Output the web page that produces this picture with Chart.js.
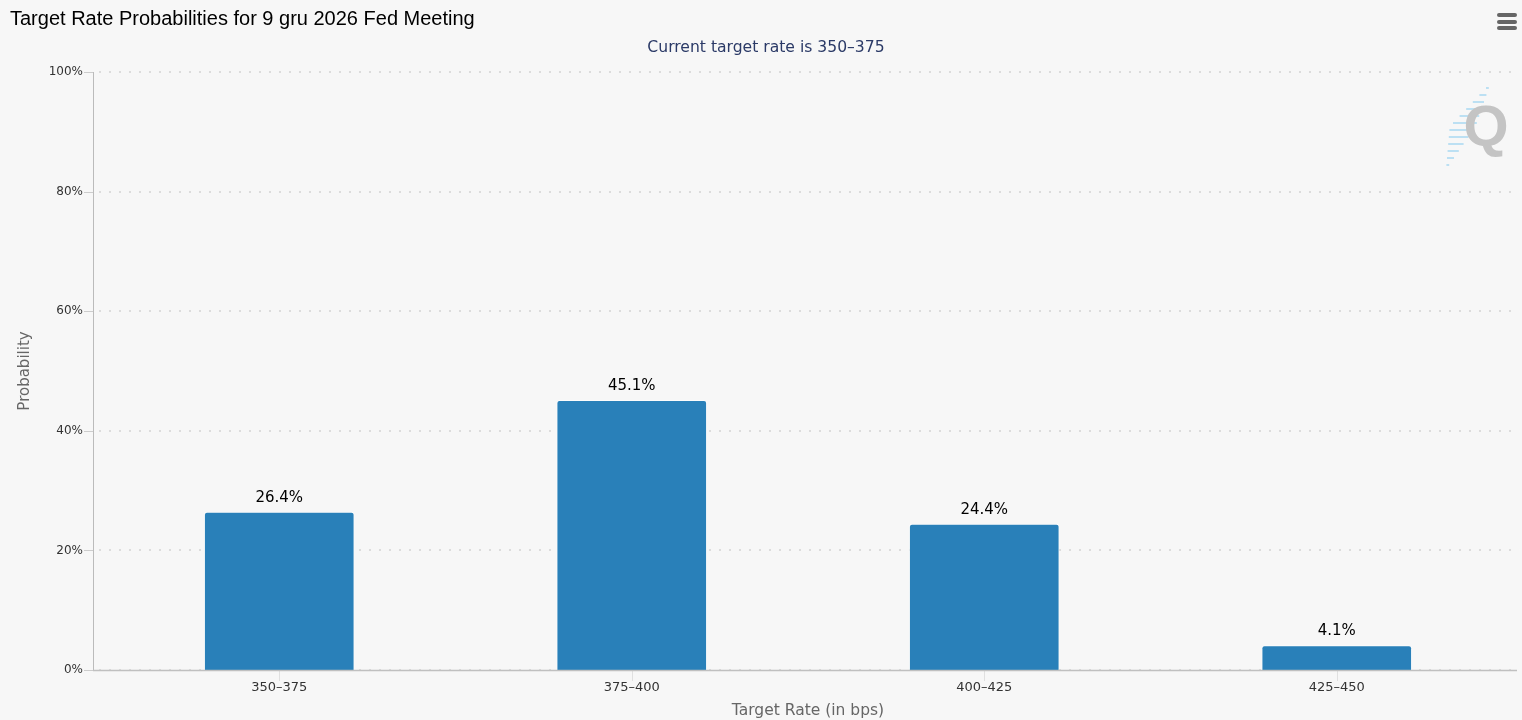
<!DOCTYPE html>
<html>
<head>
<meta charset="utf-8">
<title>Target Rate Probabilities</title>
<script src="https://cdn.jsdelivr.net/npm/chart.js@4.4.1/dist/chart.umd.min.js"></script>
<style>
    html, body { margin: 0; padding: 0; background: #f7f7f7; }
    #wrap { position: relative; width: 1522px; height: 720px; }
    #menu { position: absolute; left: 1497px; top: 13px; width: 20px; }
    #menu div { height: 4px; background: #666; border-radius: 2px; margin-bottom: 2.5px; }
</style>
</head>
<body>
<div id="wrap">
    <canvas id="probChart" width="1522" height="720"></canvas>
    <div id="menu"><div></div><div></div><div></div></div>
</div>
<script>
const titleText = 'Target Rate Probabilities for 9 gru 2026 Fed Meeting';
const subtitleText = 'Current target rate is 350\u2013375';
const rateLabels = ['350\u2013375', '375\u2013400', '400\u2013425', '425\u2013450'];
const probabilities = [26.4, 45.1, 24.4, 4.1];
const yTicks = [0, 20, 40, 60, 80, 100];

const axisLeft = 93;
const axisRight = 1517;

// grid, axis lines, tick marks, headings, value labels, logo
const decorPlugin = {
    id: 'decor',
    beforeDatasetsDraw(chart) {
        const ctx = chart.ctx;
        const y = chart.scales.y;
        const x = chart.scales.x;
        ctx.save();
        // dotted grid lines
        ctx.strokeStyle = '#dcdcdc';
        ctx.lineWidth = 2;
        ctx.setLineDash([2, 8]);
        yTicks.forEach(v => {
            const py = Math.round(y.getPixelForValue(v));
            ctx.beginPath();
            ctx.moveTo(axisLeft + 6, py);
            ctx.lineTo(axisRight, py);
            ctx.stroke();
        });
        ctx.setLineDash([]);
        ctx.lineWidth = 1;
        // y tick marks
        ctx.strokeStyle = '#cccccc';
        yTicks.forEach(v => {
            const py = Math.round(y.getPixelForValue(v)) + 0.5;
            ctx.beginPath();
            ctx.moveTo(axisLeft - 9, py);
            ctx.lineTo(axisLeft, py);
            ctx.stroke();
        });
        // x tick marks
        ctx.strokeStyle = '#e0e0e0';
        rateLabels.forEach((l, i) => {
            const px = Math.round(x.getPixelForValue(i)) + 0.5;
            ctx.beginPath();
            ctx.moveTo(px, y.bottom);
            ctx.lineTo(px, y.bottom + 11);
            ctx.stroke();
        });
        // y axis line
        ctx.strokeStyle = '#bbbbbb';
        ctx.beginPath();
        ctx.moveTo(axisLeft + 0.5, y.top);
        ctx.lineTo(axisLeft + 0.5, y.bottom);
        ctx.stroke();
        ctx.restore();
    },
    afterDatasetsDraw(chart) {
        const ctx = chart.ctx;
        const y = chart.scales.y;
        ctx.save();
        // x axis line
        ctx.strokeStyle = '#c0c0c0';
        ctx.lineWidth = 1.5;
        ctx.beginPath();
        ctx.moveTo(axisLeft, y.bottom + 0.5);
        ctx.lineTo(axisRight, y.bottom + 0.5);
        ctx.stroke();

        // value labels
        ctx.fillStyle = '#000';
        ctx.font = '15px "DejaVu Sans"';
        ctx.textAlign = 'center';
        ctx.textBaseline = 'middle';
        chart.getDatasetMeta(0).data.forEach((bar, i) => {
            ctx.fillText(probabilities[i].toFixed(1) + '%', bar.x, bar.y - 14);
        });

        // headings
        ctx.textAlign = 'left';
        ctx.textBaseline = 'alphabetic';
        ctx.font = '20px "Liberation Sans", Arial';
        ctx.fillText(titleText, 10, 25);
        ctx.textAlign = 'center';
        ctx.textBaseline = 'middle';
        ctx.fillStyle = '#2b3a67';
        ctx.font = '15.6px "DejaVu Sans"';
        ctx.fillText(subtitleText, 766, 48);

        // watermark logo
        ctx.strokeStyle = 'rgba(140, 205, 240, 0.55)';
        ctx.lineWidth = 2;
        for (let k = 0; k < 12; k++) {
            const cy = 88 + k * 7;
            const cx = 1488 - k * 3.6;
            const half = k < 6 ? 2 + k * 3 : 2 + (11 - k) * 3;
            ctx.beginPath();
            ctx.moveTo(cx - half, cy);
            ctx.lineTo(cx + half * 0.4, cy);
            ctx.stroke();
        }
        ctx.fillStyle = '#c4c4c4';
        ctx.font = 'bold 58px "Liberation Sans", Arial';
        ctx.fillText('Q', 1486, 130);
        ctx.restore();
    }
};

const ctx = document.getElementById('probChart').getContext('2d');
new Chart(ctx, {
    type: 'bar',
    data: {
        labels: rateLabels,
        datasets: [{
            data: probabilities,
            backgroundColor: '#2980b9',
            borderColor: 'rgba(255, 255, 255, 0.6)',
            borderWidth: 1,
            borderRadius: { topLeft: 3, topRight: 3 },
            borderSkipped: 'bottom',
            barThickness: 150
        }]
    },
    plugins: [decorPlugin],
    options: {
        responsive: false,
        animation: false,
        layout: { padding: { left: 0, right: 9, top: 72, bottom: 0 } },
        plugins: {
            legend: { display: false },
            tooltip: { enabled: false },
            title: { display: false }
        },
        scales: {
            x: {
                offset: true,
                grid: { display: false, drawTicks: false },
                border: { display: false },
                ticks: {
                    color: '#333',
                    font: { family: 'DejaVu Sans', size: 13 },
                    padding: 10,
                    maxRotation: 0
                },
                title: {
                    display: true,
                    text: 'Target Rate (in bps)',
                    color: '#666',
                    font: { family: 'DejaVu Sans', size: 15.5 },
                    padding: { top: 0, bottom: 0 }
                },
                afterFit(scale) { scale.height = 50; }
            },
            y: {
                min: 0,
                max: 100,
                afterBuildTicks(scale) {
                    scale.ticks = yTicks.map(v => ({ value: v }));
                },
                grid: { display: false, drawTicks: false },
                border: { display: false },
                ticks: {
                    color: '#333',
                    font: { family: 'DejaVu Sans', size: 12 },
                    padding: 20,
                    callback: v => v + '%'
                },
                title: {
                    display: true,
                    text: 'Probability',
                    color: '#666',
                    font: { family: 'DejaVu Sans', size: 15 },
                    padding: { top: 16, bottom: 0 }
                },
                afterFit(scale) { scale.width = 103; }
            }
        }
    }
});
</script>
</body>
</html>
